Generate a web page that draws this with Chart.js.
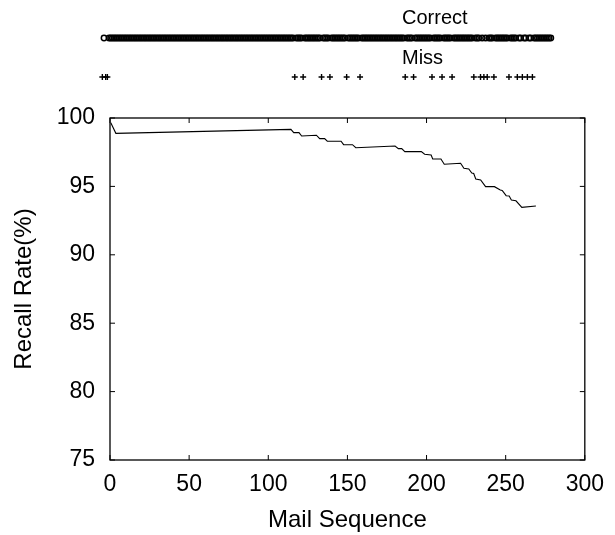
<!DOCTYPE html>
<html>
<head>
<meta charset="utf-8">
<script src="https://cdn.jsdelivr.net/npm/chart.js@4/dist/chart.umd.min.js"></script>
<style>
  html, body { margin: 0; padding: 0; background: #fff; }
  #wrap { position: relative; width: 615px; height: 535px; }
  #wrap canvas { position: absolute; left: 0; top: 0; }
</style>
</head>
<body>
<div id="wrap">
  <canvas id="recallChart" width="615" height="535"></canvas>
  <canvas id="stripChart" width="615" height="100"></canvas>
</div>
<script>
// Recall curve
const mailSeq = [0.5, 3.7, 114.3, 116.1, 119.4, 121.1, 130.4, 132.5, 135.6, 137.3,
    146.0, 147.6, 153.2, 155.3, 180.1, 182.2, 184.3, 186.3, 196.7, 198.8,
    202.9, 203.9, 209.1, 211.2, 221.5, 223.6, 226.7, 228.6, 229.8, 231.1,
    234.2, 237.3, 242.9, 246.6, 247.8, 250.3, 252.2, 253.6, 256.5, 260.2, 269.1];
const recallRate = [99.66, 98.88, 99.17, 98.93, 98.93, 98.68, 98.74, 98.49, 98.49, 98.30,
    98.30, 98.05, 98.05, 97.83, 97.95, 97.76, 97.76, 97.54, 97.54, 97.35,
    97.30, 97.00, 97.00, 96.62, 96.69, 96.32, 96.27, 95.98, 95.94, 95.54,
    95.47, 94.98, 94.98, 94.74, 94.70, 94.32, 94.30, 94.01, 93.95, 93.47, 93.57];

// Strip above the plot: mails judged correctly (runs) and missed mails
const stripRows = ['Correct', 'Miss'];
const correctRuns = [[3, 3], [6, 116], [118, 121], [123, 132], [134, 137], [139, 147],
    [149, 155], [157, 182], [184, 187], [189, 198], [200, 204], [206, 210],
    [212, 223], [225, 227], [229, 229], [231, 231], [233, 235], [237, 244],
    [246, 249], [251, 252], [254, 255], [257, 258], [260, 270]];
const missSeq = [2, 4, 5, 117, 122, 133, 138, 148, 156, 183, 188, 199, 205, 211,
    224, 228, 230, 232, 236, 245, 250, 253, 256, 259];

// Axis ticks
const mailTicks = [0, 50, 100, 150, 200, 250, 300];
const rateTicks = [75, 80, 85, 90, 95, 100];

const FONT = 'Liberation Sans, Arial, Helvetica, sans-serif';

// gnuplot style frame with inward ticks on all four sides
const framePlugin = {
    id: 'frame',
    afterDatasetsDraw(chart) {
        const { ctx, chartArea: a, scales } = chart;
        ctx.save();
        ctx.strokeStyle = '#000';
        ctx.lineWidth = 1.3;
        ctx.strokeRect(a.left, a.top, a.right - a.left, a.bottom - a.top);
        ctx.lineWidth = 1;
        ctx.beginPath();
        mailTicks.forEach(v => {
            const px = scales.x.getPixelForValue(v);
            ctx.moveTo(px, a.bottom); ctx.lineTo(px, a.bottom - 5);
            ctx.moveTo(px, a.top); ctx.lineTo(px, a.top + 5);
        });
        rateTicks.forEach(v => {
            const py = scales.y.getPixelForValue(v);
            ctx.moveTo(a.left, py); ctx.lineTo(a.left + 5, py);
            ctx.moveTo(a.right, py); ctx.lineTo(a.right - 5, py);
        });
        ctx.stroke();
        ctx.restore();
    }
};

new Chart(document.getElementById('recallChart'), {
    type: 'line',
    data: {
        datasets: [{
            label: 'Recall Rate',
            data: mailSeq.map((s, i) => ({ x: s, y: recallRate[i] })),
            borderColor: '#000',
            borderWidth: 1.1,
            pointRadius: 0,
            tension: 0,
            fill: false
        }]
    },
    options: {
        responsive: false,
        devicePixelRatio: 1,
        animation: false,
        events: [],
        layout: { padding: { left: 0, top: 118, right: 22, bottom: 0 } },
        plugins: { legend: { display: false }, tooltip: { enabled: false } },
        scales: {
            x: {
                type: 'linear',
                min: 0,
                max: 300,
                afterBuildTicks: s => { s.ticks = mailTicks.map(v => ({ value: v })); },
                afterFit: s => { s.height = 75; },
                grid: { display: false, drawTicks: false },
                border: { display: false },
                ticks: { color: '#000', padding: 11, maxRotation: 0, font: { family: FONT, size: 23 } },
                title: {
                    display: true,
                    text: 'Mail Sequence',
                    color: '#000',
                    padding: { top: 0, bottom: 0 },
                    font: { family: FONT, size: 24 }
                }
            },
            y: {
                min: 75,
                max: 100,
                afterBuildTicks: s => { s.ticks = rateTicks.map(v => ({ value: v })); },
                afterFit: s => { s.width = 110; },
                grid: { display: false, drawTicks: false },
                border: { display: false },
                ticks: { color: '#000', padding: 15, font: { family: FONT, size: 23 } },
                title: {
                    display: true,
                    text: 'Recall Rate(%)',
                    color: '#000',
                    padding: { top: 10, bottom: 0 },
                    font: { family: FONT, size: 24 }
                }
            }
        }
    },
    plugins: [framePlugin]
});

// row titles of the strip
const rowLabelPlugin = {
    id: 'rowLabels',
    afterDraw(chart) {
        const { ctx } = chart;
        ctx.save();
        ctx.fillStyle = '#000';
        ctx.font = '20px ' + FONT;
        ctx.textAlign = 'left';
        ctx.textBaseline = 'middle';
        ctx.fillText(stripRows[0], 402, 18);
        ctx.fillText(stripRows[1], 402, 58);
        ctx.restore();
    }
};

const correctSeq = [];
correctRuns.forEach(([a, b]) => {
    for (let s = a; s <= b; s++) correctSeq.push(s);
});

new Chart(document.getElementById('stripChart'), {
    type: 'scatter',
    data: {
        datasets: [
            {
                label: stripRows[0],
                data: correctSeq.map(s => ({ x: s, y: 1 })),
                pointStyle: 'circle',
                pointRadius: 2.7,
                borderWidth: 1.5,
                borderColor: '#000',
                backgroundColor: 'rgba(0,0,0,0)',
                clip: false
            },
            {
                label: stripRows[1],
                data: missSeq.map(s => ({ x: s, y: 0 })),
                pointStyle: 'cross',
                pointRadius: 3,
                borderWidth: 1.4,
                borderColor: '#000',
                clip: false
            }
        ]
    },
    options: {
        responsive: false,
        devicePixelRatio: 1,
        animation: false,
        events: [],
        layout: { padding: { left: 99, right: 14, top: 38, bottom: 23 } },
        plugins: { legend: { display: false }, tooltip: { enabled: false } },
        scales: {
            x: { type: 'linear', min: 0, max: 300, display: false },
            y: { min: 0, max: 1, display: false }
        }
    },
    plugins: [rowLabelPlugin]
});
</script>
</body>
</html>
